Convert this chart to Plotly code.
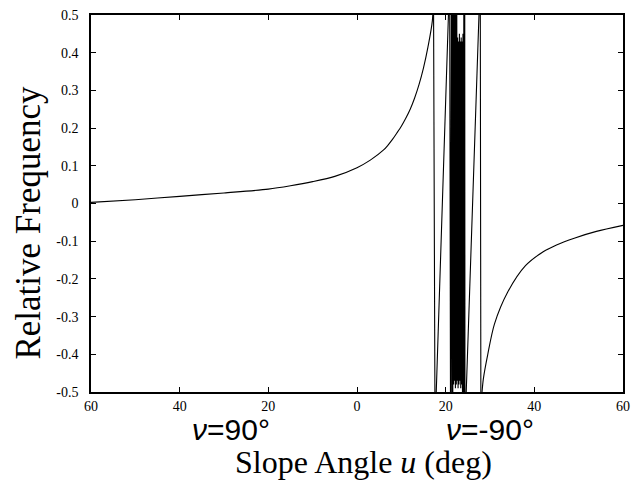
import plotly.graph_objects as go

# Left branch (v = 90 deg side)
u_left = [-60, -50, -40, -30, -20, -15, -10, -5, 0, 3, 6, 7, 8, 9, 10, 11, 12, 13, 14, 15, 16, 17, 17.25]
f_left = [0.003, 0.010, 0.019, 0.028, 0.038, 0.047, 0.058, 0.072, 0.095, 0.115, 0.142, 0.155,
          0.17, 0.187, 0.205, 0.226, 0.25, 0.28, 0.316, 0.36, 0.415, 0.485, 0.58]

# Singular / oscillating region
u_burst = [17.6, 20.9, 21.1,
           21.3, 21.4, 21.5, 21.6, 21.7, 21.8, 21.9, 22.0, 22.1, 22.2, 22.3, 22.4, 22.5, 22.6,
           22.7, 22.8, 22.9, 23.0, 23.1, 23.2, 23.3, 23.4, 23.5, 23.6, 23.7, 23.8, 23.9, 24.0,
           24.1, 24.2, 24.3,
           24.35, 27.8, 27.95]
f_burst = [-0.6, 0.6, -0.6,
           0.6, -0.6, 0.6, -0.6, 0.6, -0.48, 0.6, -0.47, 0.6, -0.49, 0.6, -0.48, 0.6, -0.47,
           0.44, -0.49, 0.43, -0.48, 0.45, -0.47, 0.43, -0.49, 0.44, -0.48, 0.43, -0.6, 0.45, -0.6,
           0.6, -0.6, 0.6,
           -0.6, 0.6, -0.6]

# Right branch (v = -90 deg side)
u_right = [28.2, 28.5, 29.5, 31, 34, 38, 42, 45, 49, 54, 60]
f_right = [-0.5, -0.465, -0.40, -0.32, -0.235, -0.165, -0.128, -0.11, -0.092, -0.074, -0.058]

x_tickvals = [-60, -40, -20, 0, 20, 40, 60]
x_ticktext = ["60", "40", "20", "0", "20", "40", "60"]
y_tickvals = [0.5, 0.4, 0.3, 0.2, 0.1, 0, -0.1, -0.2, -0.3, -0.4, -0.5]
y_ticktext = ["0.5", "0.4", "0.3", "0.2", "0.1", "0", "-0.1", "-0.2", "-0.3", "-0.4", "-0.5"]

line_style = dict(color="black", width=1.1)

fig = go.Figure()
fig.add_trace(go.Scatter(x=u_left, y=f_left, mode="lines",
                         line=dict(shape="spline", smoothing=0.8, **line_style),
                         showlegend=False, hoverinfo="skip"))
fig.add_trace(go.Scatter(x=[u_left[-1]] + u_burst + [u_right[0]],
                         y=[f_left[-1]] + f_burst + [f_right[0]],
                         mode="lines", line=line_style, showlegend=False, hoverinfo="skip"))
fig.add_trace(go.Scatter(x=u_right, y=f_right, mode="lines",
                         line=dict(shape="spline", smoothing=0.8, **line_style),
                         showlegend=False, hoverinfo="skip"))

serif = "Liberation Serif, Times New Roman, serif"
axis_common = dict(showline=True, linecolor="black", linewidth=1.5, mirror="ticks",
                   ticks="inside", ticklen=5, tickcolor="black", tickwidth=1,
                   showgrid=False, zeroline=False,
                   tickfont=dict(family=serif, size=14, color="black"))

fig.update_xaxes(range=[-60, 60], tickvals=x_tickvals, ticktext=x_ticktext, **axis_common)
fig.update_yaxes(range=[-0.5, 0.5], tickvals=y_tickvals, ticktext=y_ticktext,
                 ticklabelstandoff=8, **axis_common)

fig.add_annotation(text="Relative Frequency", xref="paper", yref="paper",
                   x=-0.118, y=0.45, xanchor="center", yanchor="middle",
                   textangle=-90, showarrow=False,
                   font=dict(family=serif, size=35, color="black"))
fig.add_annotation(text="Slope Angle <i>u</i> (deg)", xref="paper", yref="paper",
                   x=0.512, y=-0.187, xanchor="center", yanchor="middle",
                   showarrow=False, font=dict(family=serif, size=32, color="black"))
fig.add_annotation(text="<i>ν</i>=90°", xref="paper", yref="paper",
                   x=0.263, y=-0.05, xanchor="center", yanchor="top",
                   showarrow=False,
                   font=dict(family="Liberation Sans, Arial, sans-serif", size=30, color="black"))
fig.add_annotation(text="<i>ν</i>=-90°", xref="paper", yref="paper",
                   x=0.75, y=-0.05, xanchor="center", yanchor="top",
                   showarrow=False,
                   font=dict(family="Liberation Sans, Arial, sans-serif", size=30, color="black"))

fig.update_layout(width=643, height=495, margin=dict(l=91, r=20, t=8, b=103),
                  paper_bgcolor="white", plot_bgcolor="white")

fig.write_html("out.html", config={"displayModeBar": False},
               post_script="document.body.style.margin='0';")
